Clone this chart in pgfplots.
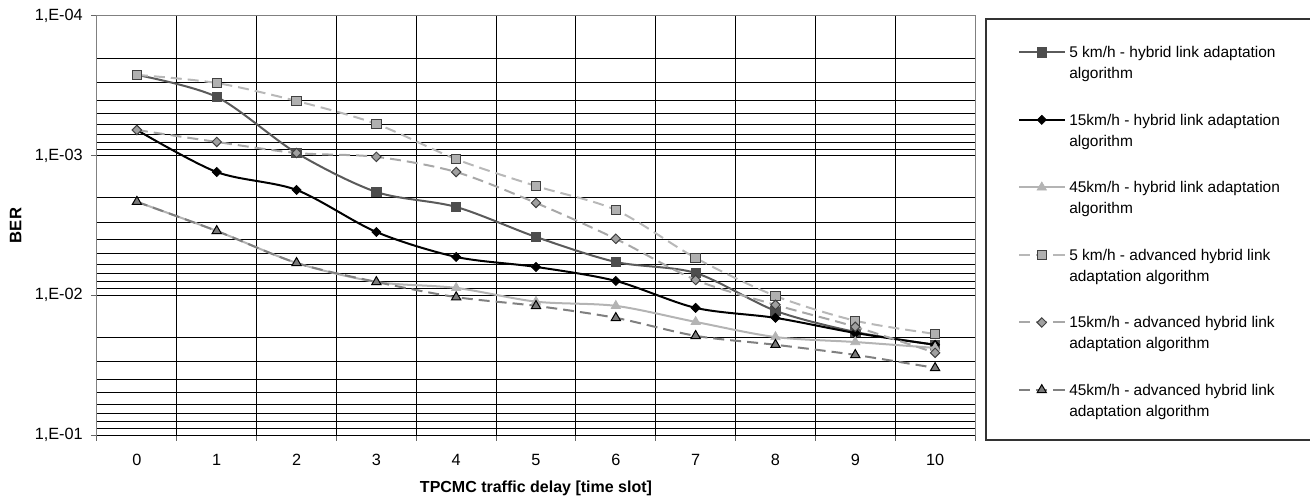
\documentclass[border=0pt]{standalone}
\usepackage{pgfplots}
\pgfplotsset{compat=1.18}
\usepackage{fontspec}
\setmainfont{Liberation Sans}
\definecolor{sA}{HTML}{5A5A5A}
\definecolor{sAm}{HTML}{4D4D4D}
\definecolor{sC}{HTML}{B4B4B4}
\definecolor{sD}{HTML}{B8B8B8}
\definecolor{sDm}{HTML}{B0B0B0}
\definecolor{sE}{HTML}{A8A8A8}
\definecolor{sEm}{HTML}{A0A0A0}
\definecolor{sF}{HTML}{808080}
\definecolor{sFm}{HTML}{7A7A7A}
\begin{document}
\begin{tikzpicture}
\useasboundingbox (0,0) rectangle (982.5pt,372.75pt);
\begin{axis}[
  at={(72.75pt,46.5pt)}, anchor=south west,
  scale only axis, width=658.5pt, height=314.25pt,
  ymode=log, y dir=reverse,
  xmin=-0.5, xmax=10.5, ymin=1e-4, ymax=1e-1,
  xtick={0,1,2,3,4,5,6,7,8,9,10},
  xticklabels={0,1,2,3,4,5,6,7,8,9,10},
  minor xtick={-0.5,0.5,1.5,2.5,3.5,4.5,5.5,6.5,7.5,8.5,9.5,10.5},
  ytick={1e-4,1e-3,1e-2,1e-1},
  yticklabels={{1,E-04},{1,E-03},{1,E-02},{1,E-01}},
  minor ytick={2e-4,3e-4,4e-4,5e-4,6e-4,7e-4,8e-4,9e-4,
               2e-3,3e-3,4e-3,5e-3,6e-3,7e-3,8e-3,9e-3,
               2e-2,3e-2,4e-2,5e-2,6e-2,7e-2,8e-2,9e-2},
  xmajorgrids=false, xminorgrids=true, ymajorgrids=true, yminorgrids=true,
  major grid style={black, line width=0.75pt},
  minor grid style={black, line width=0.75pt},
  axis line style={black!50, line width=0.75pt},
  tick align=outside, tick pos=left,
  major tick length=4.5pt, minor tick length=4.5pt,
  tick style={black!60, line width=0.75pt},
  major x tick style={draw=none},
  minor y tick style={draw=none},
  x tick label style={font=\fontsize{12.2}{14}\selectfont, inner sep=0pt, yshift=-10pt},
  y tick label style={font=\fontsize{12.2}{14}\selectfont, inner sep=0pt, xshift=-6pt},
  xlabel={TPCMC traffic delay [time slot]},
  ylabel={BER},
  every axis x label/.style={at={(axis description cs:0.5,-0.1265)}, anchor=center,
    font=\fontsize{12}{14}\selectfont\bfseries},
  every axis y label/.style={at={(axis description cs:-0.0928,0.5)}, rotate=90, anchor=center,
    font=\fontsize{12.5}{14}\selectfont\bfseries},
  clip mode=individual,
  legend style={at={(axis description cs:1.049,0.928)}, anchor=north west,
    draw=none, fill=none, inner sep=0pt,
    font=\fontsize{11.6}{15.75}\selectfont,
    row sep=25pt, column sep=3pt,
    cells={anchor=base west, align=left}, nodes={inner sep=0pt}},
  legend image code/.code={\draw[mark repeat=2,mark phase=2,#1] plot coordinates {(0pt,19.75pt) (16.875pt,19.75pt) (33.75pt,19.75pt)};},
]
% 5 km/h hybrid
\addplot[sA, line width=1.5pt, smooth, tension=0.5, mark=square*, mark size=3.5pt,
  mark options={fill=sAm, draw=sAm, solid, line width=0.6pt}] coordinates {
  (0,2.64e-4) (1,3.80e-4) (2,9.57e-4) (3,1.82e-3) (4,2.33e-3) (5,3.82e-3)
  (6,5.77e-3) (7,6.92e-3) (8,1.29e-2) (9,1.83e-2) (10,2.26e-2)};
\addlegendentry{5 km/h - hybrid link adaptation\\algorithm}
% 15 km/h hybrid
\addplot[black, line width=1.5pt, smooth, tension=0.5, mark=square*, mark size=2.4pt,
  mark options={fill=black, draw=black, solid, rotate=45, line width=0.6pt}] coordinates {
  (0,6.55e-4) (1,1.31e-3) (2,1.76e-3) (3,3.52e-3) (4,5.31e-3) (5,6.26e-3)
  (6,7.89e-3) (7,1.23e-2) (8,1.45e-2) (9,1.86e-2) (10,2.26e-2)};
\addlegendentry{15km/h - hybrid link adaptation\\algorithm}
% 45 km/h hybrid
\addplot[sC, line width=1.5pt, smooth, tension=0.5, mark=triangle*, mark size=4pt,
  mark options={fill=sC, draw=sC, solid, line width=0.6pt}] coordinates {
  (0,2.14e-3) (1,3.46e-3) (2,5.86e-3) (3,8.02e-3) (4,8.85e-3) (5,1.11e-2)
  (6,1.19e-2) (7,1.55e-2) (8,1.99e-2) (9,2.16e-2) (10,2.38e-2)};
\addlegendentry{45km/h - hybrid link adaptation\\algorithm}
% 5 km/h advanced
\addplot[sD, line width=1.5pt, smooth, tension=0.5, dash pattern=on 8.25pt off 4.5pt,
  mark=square*, mark size=3.5pt,
  mark options={fill=sDm, draw=black!75, solid, line width=0.75pt}] coordinates {
  (0,2.64e-4) (1,3.02e-4) (2,4.06e-4) (3,5.93e-4) (4,1.06e-3) (5,1.65e-3)
  (6,2.45e-3) (7,5.40e-3) (8,1.01e-2) (9,1.52e-2) (10,1.89e-2)};
\addlegendentry{5 km/h - advanced hybrid link\\adaptation algorithm}
% 15 km/h advanced
\addplot[sE, line width=1.5pt, smooth, tension=0.5, dash pattern=on 8.25pt off 4.5pt,
  mark=square*, mark size=2.5pt,
  mark options={fill=sEm, draw=black!75, solid, rotate=45, line width=0.75pt}] coordinates {
  (0,6.55e-4) (1,7.98e-4) (2,9.57e-4) (3,1.02e-3) (4,1.31e-3) (5,2.18e-3)
  (6,3.94e-3) (7,7.76e-3) (8,1.17e-2) (9,1.68e-2) (10,2.58e-2)};
\addlegendentry{15km/h - advanced hybrid link\\adaptation algorithm}
% 45 km/h advanced
\addplot[sF, line width=1.5pt, smooth, tension=0.5, dash pattern=on 8.25pt off 4.5pt,
  mark=triangle*, mark size=4pt,
  mark options={fill=sFm, draw=black, solid, line width=0.75pt}] coordinates {
  (0,2.14e-3) (1,3.46e-3) (2,5.86e-3) (3,8.02e-3) (4,1.03e-2) (5,1.19e-2)
  (6,1.45e-2) (7,1.95e-2) (8,2.26e-2) (9,2.67e-2) (10,3.31e-2)};
\addlegendentry{45km/h - advanced hybrid link\\adaptation algorithm}
\coordinate (lgA) at (axis description cs:1.0125,0.9928);
\coordinate (lgB) at (axis description cs:1.40,-0.0119);
\coordinate (bl) at (axis description cs:0,0);
\coordinate (br) at (axis description cs:1,0);
\end{axis}
\draw[black, line width=0.75pt] (bl) -- (br);
\draw[black!80, line width=1.1pt] (lgA) rectangle (lgB);
\end{tikzpicture}
\end{document}
